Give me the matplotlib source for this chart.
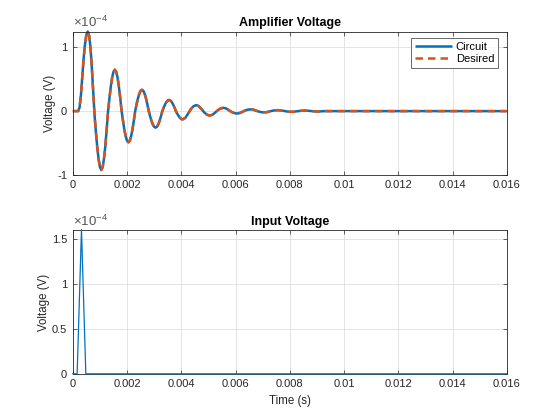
import matplotlib
matplotlib.use("Agg")
import matplotlib.pyplot as plt
from matplotlib.ticker import FixedLocator, FuncFormatter

plt.rcParams['font.family'] = ['Liberation Sans', 'DejaVu Sans']
plt.rcParams['mathtext.fontset'] = 'custom'
plt.rcParams['mathtext.rm'] = 'Liberation Sans'
plt.rcParams['mathtext.it'] = 'Liberation Sans'

SCALE = 1e-4

# ---- Amplifier output (units of 1e-4 V) ----
t_amp = [0.0, 0.00005, 0.0001, 0.00015, 0.0002, 0.00025, 0.0003, 0.00035, 0.0004, 0.00045, 0.0005, 0.00055,
         0.0006, 0.00065, 0.0007, 0.00075, 0.0008, 0.00085, 0.0009, 0.00095, 0.001, 0.00105,
         0.0011, 0.00115, 0.0012, 0.00125, 0.0013, 0.00135, 0.0014, 0.00145, 0.0015, 0.00155,
         0.0016, 0.00165, 0.0017, 0.00175, 0.0018, 0.00185, 0.0019, 0.00195, 0.002, 0.00205,
         0.0021, 0.00215, 0.0022, 0.00225, 0.0023, 0.00235, 0.0024, 0.00245, 0.0025, 0.00255,
         0.0026, 0.00265, 0.0027, 0.00275, 0.0028, 0.00285, 0.0029, 0.00295, 0.003, 0.00305,
         0.0031, 0.00315, 0.0032, 0.00325, 0.0033, 0.00335, 0.0034, 0.00345, 0.0035, 0.00355,
         0.0036, 0.00365, 0.0037, 0.00375, 0.0038, 0.00385, 0.0039, 0.00395, 0.004, 0.00405,
         0.00415, 0.00425, 0.00435, 0.00445, 0.00455,
         0.00465, 0.00475, 0.00485, 0.00495, 0.00505,
         0.00515, 0.00525, 0.00535, 0.00545, 0.00555,
         0.00565, 0.00575, 0.00585, 0.00595, 0.00605,
         0.00615, 0.00625, 0.00635, 0.00645, 0.00655,
         0.00665, 0.00675, 0.00685, 0.00695, 0.00705,
         0.00715, 0.00725, 0.00735, 0.00745, 0.00755,
         0.00765, 0.00775, 0.00785, 0.00795, 0.00805,
         0.00815, 0.00825, 0.00835, 0.00845, 0.00855,
         0.00865, 0.00875, 0.00885, 0.00895, 0.00905,
         0.0093, 0.016]
v_circuit = [0.0, 0.0, 0.0, 0.0, 0.0, 0.06, 0.25, 0.55, 0.83, 1.05, 1.2, 1.25,
             1.19, 1.01, 0.70, 0.33, -0.05, -0.32, -0.56, -0.75, -0.88, -0.925,
             -0.88, -0.748, -0.544, -0.286, 0.0, 0.20, 0.382, 0.526, 0.618, 0.65,
             0.618, 0.526, 0.382, 0.20, 0.0, -0.151, -0.288, -0.396, -0.466, -0.49,
             -0.466, -0.396, -0.288, -0.151, 0.0, 0.104, 0.197, 0.271, 0.319, 0.335,
             0.319, 0.271, 0.197, 0.104, 0.0, -0.080, -0.153, -0.21, -0.247, -0.26,
             -0.247, -0.21, -0.153, -0.080, 0.0, 0.054, 0.103, 0.142, 0.166, 0.175,
             0.166, 0.142, 0.103, 0.054, 0.0, -0.04, -0.076, -0.105, -0.124, -0.13,
             -0.105, -0.04, 0.03, 0.077, 0.095,
             0.077, 0.03, -0.022, -0.057, -0.07,
             -0.057, -0.022, 0.016, 0.042, 0.052,
             0.042, 0.016, -0.012, -0.031, -0.038,
             -0.031, -0.012, 0.009, 0.023, 0.028,
             0.023, 0.009, -0.006, -0.016, -0.02,
             -0.016, -0.006, 0.005, 0.012, 0.015,
             0.012, 0.005, -0.003, -0.009, -0.011,
             -0.009, -0.003, 0.002, 0.006, 0.008,
             0.006, 0.002, -0.002, -0.005, -0.006,
             0.0, 0.0]
v_desired = list(v_circuit)

# ---- Input pulse (units of 1e-4 V) ----
t_in = [0.0, 0.00016, 0.00032, 0.00048, 0.016]
v_in = [0.0, 0.0, 1.6, 0.0, 0.0]

xticks = [0, 0.002, 0.004, 0.006, 0.008, 0.01, 0.012, 0.014, 0.016]
xtick_labels = ['0', '0.002', '0.004', '0.006', '0.008', '0.01', '0.012', '0.014', '0.016']
yticks_top = [-1, 0, 1]
yticks_bot = [0, 0.5, 1, 1.5]

BLUE = '#0072BD'
ORANGE = '#D95319'
DARK = '#262626'
FS = 8

fig = plt.figure(figsize=(5.6, 4.2), dpi=100)
ax1 = fig.add_axes([0.13, 0.5838, 0.775, 0.3412])
ax2 = fig.add_axes([0.13, 0.11, 0.775, 0.3412])


def style(ax, yt, ylim):
    ax.set_xlim(0, 0.016)
    ax.set_ylim(ylim[0] * SCALE, ylim[1] * SCALE)
    ax.xaxis.set_major_locator(FixedLocator(xticks))
    ax.set_xticklabels(xtick_labels)
    ax.yaxis.set_major_locator(FixedLocator([v * SCALE for v in yt]))
    ax.yaxis.set_major_formatter(FuncFormatter(lambda v, p: ('%g' % round(v / SCALE, 4))))
    ax.tick_params(direction='in', length=3.2, width=0.5, colors=DARK,
                   labelsize=FS, top=True, right=True, pad=4)
    for s in ax.spines.values():
        s.set_linewidth(0.6)
        s.set_color(DARK)
    ax.grid(True, color='#dfdfdf', linewidth=0.6)
    ax.set_axisbelow(True)
    ax.set_ylabel('Voltage (V)', fontsize=FS + 0.3, color=DARK, labelpad=1)
    ax.text(0.0, 1.01, r'$\times10^{-4}$', transform=ax.transAxes,
            fontsize=FS + 1.5, color='#555555', ha='left', va='bottom')


style(ax1, yticks_top, (-1, 1.25))
style(ax2, yticks_bot, (0, 1.59))

ax1.plot(t_amp, [v * SCALE for v in v_circuit], color=BLUE, lw=1.8,
         label='Circuit', clip_on=False, solid_capstyle='butt')
ax1.plot(t_amp, [v * SCALE for v in v_desired], color=ORANGE, lw=1.8,
         ls=(0, (3.0, 2.0)), label='Desired', clip_on=False)
leg = ax1.legend(loc='upper right', bbox_to_anchor=(0.98, 0.954), fontsize=FS,
                 frameon=True, fancybox=False,
                 borderaxespad=0.0, handlelength=3.4, handletextpad=0.3,
                 borderpad=0.35, labelspacing=0.2)
leg.get_frame().set_edgecolor(DARK)
leg.get_frame().set_linewidth(0.6)

ax2.plot(t_in, [v * SCALE for v in v_in], color=BLUE, lw=0.9, clip_on=False, zorder=3)

ax1.set_title('Amplifier Voltage', fontsize=9, fontweight='bold', color='black', pad=4)
ax2.set_title('Input Voltage', fontsize=9, fontweight='bold', color='black', pad=4)
ax2.set_xlabel('Time (s)', fontsize=FS + 0.3, color=DARK, labelpad=4)

fig.savefig('out.png', dpi=100)
